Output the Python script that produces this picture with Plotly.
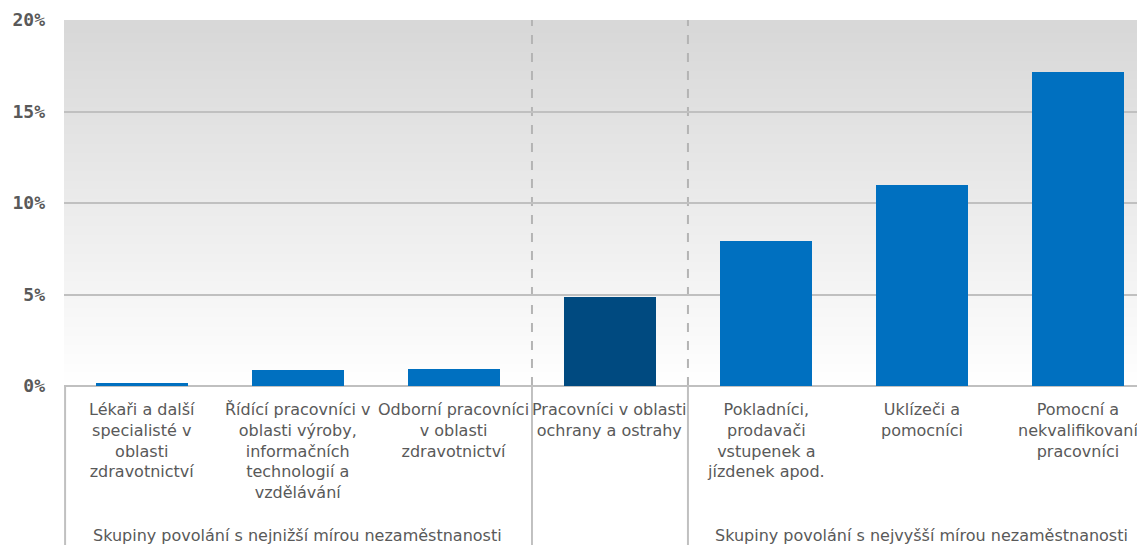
import plotly.graph_objects as go

# ---- data ----
categories = [
    "Lékaři a další<br>specialisté v<br>oblasti<br>zdravotnictví",
    "Řídící pracovníci v<br>oblasti výroby,<br>informačních<br>technologií a<br>vzdělávání",
    "Odborní pracovníci<br>v oblasti<br>zdravotnictví",
    "Pracovníci v oblasti<br>ochrany a ostrahy",
    "Pokladníci,<br>prodavači<br>vstupenek a<br>jízdenek apod.",
    "Uklízeči a<br>pomocníci",
    "Pomocní a<br>nekvalifikovaní<br>pracovníci",
]
values = [0.15, 0.88, 0.92, 4.85, 7.9, 11.0, 17.15]
bar_colors = ["#0070C0", "#0070C0", "#0070C0", "#004A80", "#0070C0", "#0070C0", "#0070C0"]
group_names = [
    "Skupiny povolání s nejnižší mírou nezaměstnanosti",
    "Skupiny povolání s nejvyšší mírou nezaměstnanosti",
]
group_first = [0, 4]
group_last = [2, 6]
y_ticks = [0, 5, 10, 15, 20]
y_ticktext = ["0%", "5%", "10%", "15%", "20%"]

TEXT = "#595959"
GRID = "#c0c0c0"
FONT = "DejaVu Sans"

x = list(range(len(values)))

fig = go.Figure()
fig.add_trace(go.Bar(
    x=x, y=values, width=0.59,
    marker=dict(color=bar_colors, line=dict(width=0)),
    hoverinfo="skip",
))

shapes = []
# gradient background (grey at top -> white at bottom), stacked to avoid seams
n_bands = 80
ymax = y_ticks[-1]
for i in range(n_bands):
    y0 = ymax * i / n_bands
    t = (i + 0.5) / n_bands
    c = int(round(255 - (255 - 216) * min(1.0, t * 1.03)))
    shapes.append(dict(type="rect", xref="paper", yref="y", x0=0, x1=1, y0=y0, y1=ymax,
                       fillcolor=f"rgb({c},{c},{c})", line=dict(width=0), layer="below"))

# group boundaries
boundaries = [group_last[0] + 0.5, group_first[1] - 0.5]
for b in boundaries:
    shapes.append(dict(type="line", xref="x", yref="y", x0=b, x1=b, y0=0, y1=ymax,
                       line=dict(color="#b4b4b4", width=2, dash="dash"), layer="below"))
    shapes.append(dict(type="line", xref="x", yref="paper", x0=b, x1=b, y0=0, y1=-0.5,
                       line=dict(color=GRID, width=2), layer="above"))
shapes.append(dict(type="line", xref="paper", yref="paper", x0=0.001, x1=0.001, y0=0, y1=-0.5,
                   line=dict(color=GRID, width=2), layer="above"))

annotations = []
for xi, lab in zip(x, categories):
    annotations.append(dict(
        x=xi, y=0, xref="x", yref="paper", text=lab, showarrow=False,
        xanchor="center", yanchor="top", yshift=-12, align="center",
        font=dict(family=FONT, size=16, color=TEXT),
    ))
for name, a, b in zip(group_names, group_first, group_last):
    annotations.append(dict(
        x=(a + b) / 2, y=0, xref="x", yref="paper", text=name, showarrow=False,
        xanchor="center", yanchor="middle", yshift=-149,
        font=dict(family=FONT, size=16, color=TEXT),
    ))

# page body has an 8px default margin, so the figure is sized to end at the window edge
fig.update_layout(
    width=1137, height=537,
    margin=dict(l=56, r=0, t=12, b=159, autoexpand=False),
    paper_bgcolor="white", plot_bgcolor="white",
    showlegend=False,
    bargap=0,
    shapes=shapes,
    annotations=annotations,
    xaxis=dict(range=[-0.5, 6.43], showticklabels=False, showgrid=False,
               zeroline=False, showline=False, fixedrange=True, automargin=False),
    yaxis=dict(range=[0, ymax], tickvals=y_ticks, ticktext=y_ticktext,
               showgrid=True, gridcolor=GRID, gridwidth=2,
               zeroline=True, zerolinecolor=GRID, zerolinewidth=2,
               showline=False, ticks="", ticklabelstandoff=18, automargin=False,
               tickfont=dict(family="DejaVu Sans Mono", size=18, color=TEXT, weight="bold")),
)

fig.write_html("out.html")
